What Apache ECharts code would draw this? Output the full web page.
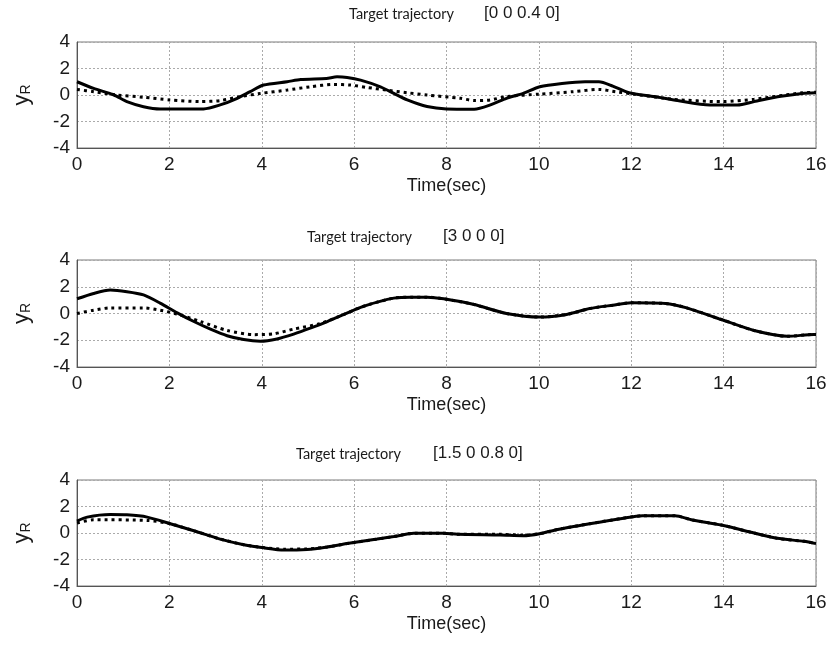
<!DOCTYPE html>
<html><head><meta charset="utf-8">
<script src="https://cdn.jsdelivr.net/npm/echarts@6/dist/echarts.min.js"></script>
<style>html,body{margin:0;padding:0;background:#fff}#c{width:831px;height:652px}</style>
</head><body><div id="c"></div>
<script>
// ---- data ----
const xTicks = [0, 2, 4, 6, 8, 10, 12, 14, 16];
const yTicks = [-4, -2, 0, 2, 4];
const titleNames = ['Target trajectory', 'Target trajectory', 'Target trajectory'];
const targets = ['[0 0 0.4 0]', '[3 0 0 0]', '[1.5 0 0.8 0]'];

const t1Solid = [0, 0.36, 0.8, 1.08, 1.44, 1.8, 2.74, 3.1, 3.47, 3.75, 4.04, 4.55, 4.84, 5.4, 5.63, 5.85, 6.14, 6.57, 6.86, 7.15, 7.58, 8.0, 8.6, 8.95, 9.3, 9.66, 10.02, 10.5, 11.0, 11.3, 11.6, 11.95, 12.5, 13.0, 13.7, 14.3, 14.66, 15.2, 15.7, 16];
const y1Solid = [1.0, 0.5, 0.0, -0.5, -0.88, -1.05, -1.05, -0.75, -0.25, 0.25, 0.75, 1.0, 1.17, 1.25, 1.37, 1.32, 1.12, 0.62, 0.12, -0.37, -0.87, -1.05, -1.07, -0.75, -0.25, 0.12, 0.62, 0.87, 1.0, 1.0, 0.67, 0.17, -0.12, -0.42, -0.75, -0.75, -0.5, -0.12, 0.12, 0.17];
const t1Dotted = [0, 0.36, 0.87, 1.44, 2.0, 2.67, 3.1, 3.54, 3.97, 4.55, 5.05, 5.56, 5.92, 6.28, 6.7, 7.15, 7.58, 8.3, 8.6, 8.95, 9.3, 10.02, 10.74, 11.3, 11.66, 11.95, 12.9, 13.95, 14.66, 15.7, 16];
const y1Dotted = [0.42, 0.25, 0.0, -0.17, -0.37, -0.5, -0.42, -0.12, 0.12, 0.37, 0.62, 0.8, 0.75, 0.57, 0.37, 0.17, 0.0, -0.25, -0.42, -0.37, -0.12, 0.07, 0.25, 0.42, 0.25, 0.12, -0.32, -0.5, -0.32, 0.17, 0.2];

const t2Solid = [0, 0.36, 0.72, 1.08, 1.44, 1.8, 2.17, 2.53, 2.89, 3.25, 3.61, 3.97, 4.33, 4.69, 5.05, 5.42, 5.78, 6.14, 6.5, 6.86, 7.22, 7.58, 7.94, 8.6, 9.3, 10.02, 10.6, 11.1, 11.6, 12.0, 12.74, 13.2, 13.95, 14.66, 15.38, 15.95, 16];
const y2Solid = [1.1, 1.5, 1.75, 1.63, 1.39, 0.78, 0.05, -0.6, -1.17, -1.66, -1.95, -2.07, -1.9, -1.54, -1.1, -0.6, -0.07, 0.46, 0.85, 1.15, 1.22, 1.22, 1.1, 0.67, 0.0, -0.27, -0.07, 0.37, 0.62, 0.8, 0.75, 0.42, -0.45, -1.27, -1.7, -1.57, -1.57];
const t2Dotted = [0, 0.36, 0.72, 1.44, 1.8, 2.17, 2.67, 3.25, 3.83, 4.26, 4.69, 5.27, 5.78, 6.14, 6.5, 6.86, 7.22, 7.58, 7.94, 8.6, 9.3, 10.02, 10.6, 11.1, 11.6, 12.0, 12.74, 13.2, 13.95, 14.66, 15.38, 15.95, 16];
const y2Dotted = [0.0, 0.25, 0.42, 0.42, 0.25, -0.05, -0.6, -1.27, -1.58, -1.52, -1.17, -0.75, -0.07, 0.46, 0.85, 1.15, 1.22, 1.22, 1.1, 0.67, 0.0, -0.27, -0.07, 0.37, 0.62, 0.8, 0.75, 0.42, -0.45, -1.27, -1.7, -1.57, -1.57];

const t3Solid = [0, 0.22, 0.72, 1.08, 1.52, 2.02, 2.53, 3.1, 3.61, 4.04, 4.48, 4.98, 5.42, 5.92, 6.5, 6.86, 7.29, 7.94, 8.24, 9.16, 9.66, 10.02, 10.38, 11.1, 11.8, 12.24, 12.95, 13.3, 13.95, 14.66, 15.16, 15.74, 16];
const y3Solid = [0.9, 1.2, 1.39, 1.37, 1.2, 0.7, 0.17, -0.46, -0.88, -1.12, -1.29, -1.24, -1.05, -0.76, -0.46, -0.27, -0.02, -0.02, -0.1, -0.15, -0.2, -0.05, 0.25, 0.7, 1.1, 1.3, 1.3, 1.0, 0.6, 0.0, -0.4, -0.63, -0.8];
const t3Dotted = [0, 0.36, 1.52, 2.02, 2.53, 3.1, 3.61, 4.04, 4.48, 4.98, 5.42, 5.92, 6.5, 6.86, 7.29, 7.94, 8.24, 9.16, 9.66, 10.02, 10.38, 11.1, 11.8, 12.24, 12.95, 13.3, 13.95, 14.66, 15.16, 15.74, 16];
const y3Dotted = [0.75, 1.0, 0.95, 0.7, 0.17, -0.46, -0.88, -1.1, -1.22, -1.2, -1.05, -0.76, -0.46, -0.27, -0.02, -0.02, -0.1, -0.1, -0.17, -0.05, 0.25, 0.7, 1.1, 1.3, 1.3, 1.0, 0.6, 0.0, -0.4, -0.63, -0.8];

// ---- chart ----
const pairs = (t, y) => t.map((v, i) => [v, y[i]]);
const solids = [pairs(t1Solid, y1Solid), pairs(t2Solid, y2Solid), pairs(t3Solid, y3Solid)];
const dotteds = [pairs(t1Dotted, y1Dotted), pairs(t2Dotted, y2Dotted), pairs(t3Dotted, y3Dotted)];

const gridTops = [42, 260, 480];
const gridHeights = [106, 107, 106];
const titleY = [1, 224, 441];
const titleX1 = [344, 302, 291];
const titleX2 = [479, 438, 428];

const grids = [], xAxes = [], yAxes = [], series = [], titles = [];
for (let i = 0; i < 3; i++) {
  grids.push({left: 77, right: 15, top: gridTops[i], height: gridHeights[i], show: true, borderColor: '#7a7a7a', borderWidth: 1, backgroundColor: 'transparent'});
  xAxes.push({
    type: 'value', gridIndex: i, min: xTicks[0], max: xTicks[xTicks.length - 1], interval: xTicks[1] - xTicks[0],
    name: 'Time(sec)', nameLocation: 'middle', nameGap: 29,
    nameTextStyle: {fontFamily: 'Liberation Sans', fontSize: 18, color: '#1a1a1a'},
    axisLine: {show: true, onZero: false, lineStyle: {color: '#555', width: 1}},
    axisTick: {show: false},
    axisLabel: {fontFamily: 'Liberation Sans', fontSize: 19, color: '#1a1a1a', margin: 7},
    splitLine: {show: true, lineStyle: {color: '#aaa', type: [2, 2], width: 1}}
  });
  yAxes.push({
    type: 'value', gridIndex: i, min: yTicks[0], max: yTicks[yTicks.length - 1], interval: yTicks[1] - yTicks[0],
    name: '{y|y}{r|R}', nameLocation: 'middle', nameGap: 44, nameRotate: 90,
    nameTextStyle: {rich: {
      y: {fontFamily: 'Liberation Sans', fontSize: 22, color: '#1a1a1a'},
      r: {fontFamily: 'Liberation Sans', fontSize: 14, color: '#1a1a1a', padding: [8, 0, 0, 0], verticalAlign: 'bottom'}
    }},
    axisLine: {show: true, lineStyle: {color: '#555', width: 1}},
    axisTick: {show: false},
    axisLabel: {fontFamily: 'Liberation Sans', fontSize: 19, color: '#1a1a1a', margin: 7},
    splitLine: {show: true, lineStyle: {color: '#aaa', type: [2, 2], width: 1}}
  });
  series.push({type: 'line', xAxisIndex: i, yAxisIndex: i, data: dotteds[i], showSymbol: false, smooth: 0.25,
    lineStyle: {color: '#000', width: 3, type: [3, 4]}, z: 2, animation: false});
  series.push({type: 'line', xAxisIndex: i, yAxisIndex: i, data: solids[i], showSymbol: false, smooth: 0.25,
    lineStyle: {color: '#000', width: 3}, z: 3, animation: false});
  titles.push({text: titleNames[i], left: titleX1[i], top: titleY[i] + 1,
    textStyle: {fontFamily: 'Lato', fontSize: 14.5, fontWeight: 'normal', color: '#1a1a1a'}});
  titles.push({text: targets[i], left: titleX2[i], top: titleY[i] - 1,
    textStyle: {fontFamily: 'Liberation Sans', fontSize: 17, fontWeight: 'normal', color: '#1a1a1a'}});
}

const chart = echarts.init(document.getElementById('c'), null, {renderer: 'canvas'});
chart.setOption({
  animation: false,
  backgroundColor: '#fff',
  title: titles,
  grid: grids,
  xAxis: xAxes,
  yAxis: yAxes,
  series: series
});
</script>
</body></html>
